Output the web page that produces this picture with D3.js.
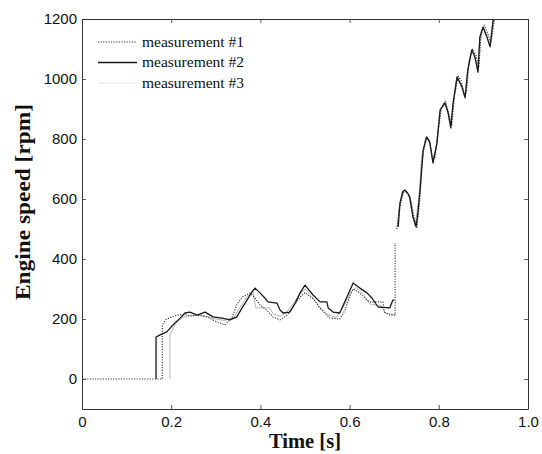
<!DOCTYPE html>
<html>
<head>
<meta charset="utf-8">
<script src="https://cdn.jsdelivr.net/npm/d3@7"></script>
<style>
  html, body { margin: 0; padding: 0; background: #fff; }
  svg { display: block; }
</style>
</head>
<body>
<svg id="chart" width="542" height="454"></svg>
<script>
// ---- data ----
const xTicks = [0, 0.2, 0.4, 0.6, 0.8, 1.0];
const xTickLabels = ["0", "0.2", "0.4", "0.6", "0.8", "1.0"];
const yTicks = [0, 200, 400, 600, 800, 1000, 1200];
const seriesNames = ["measurement #1", "measurement #2", "measurement #3"];

// measurement #1 (dotted)
const t1 = [0, 0.18, 0.18, 0.187, 0.2, 0.215, 0.23, 0.245, 0.26, 0.28, 0.303, 0.32, 0.336, 0.347, 0.359, 0.377, 0.388, 0.399, 0.414, 0.428, 0.444, 0.46, 0.473, 0.489, 0.5, 0.52, 0.534, 0.556, 0.578, 0.59, 0.6, 0.608, 0.62, 0.639, 0.645, 0.675, 0.678, 0.69, 0.702, 0.702, 0.704,
  0.706, 0.712, 0.72, 0.728, 0.737, 0.745, 0.751, 0.757, 0.763, 0.77, 0.778, 0.786, 0.791, 0.799, 0.806, 0.815, 0.823, 0.829, 0.835, 0.843, 0.85, 0.857, 0.862, 0.868, 0.876, 0.883, 0.89, 0.895, 0.902, 0.91, 0.917, 0.925, 0.932];
const v1 = [0, 0, 180, 197, 207, 213, 215, 210, 213, 207, 190, 180, 203, 247, 273, 287, 270, 247, 230, 207, 197, 213, 240, 273, 288, 265, 235, 203, 200, 230, 275, 300, 290, 263, 257, 257, 223, 213, 213, 453, null,
  500, 570, 620, 625, 595, 535, 505, 590, 730, 800, 800, 740, 735, 830, 905, 925, 880, 845, 940, 1010, 995, 950, 955, 1060, 1100, 1080, 1040, 1150, 1180, 1150, 1120, 1200, 1220];

// measurement #2 (solid)
const t2 = [0.166, 0.166, 0.175, 0.19, 0.204, 0.22, 0.231, 0.242, 0.258, 0.276, 0.294, 0.314, 0.332, 0.347, 0.359, 0.37, 0.381, 0.388, 0.399, 0.41, 0.417, 0.437, 0.444, 0.451, 0.466, 0.478, 0.489, 0.5, 0.518, 0.534, 0.549, 0.552, 0.563, 0.578, 0.594, 0.608, 0.623, 0.639, 0.65, 0.664, 0.69, 0.697, 0.7, 0.704,
  0.709, 0.713, 0.719, 0.724, 0.73, 0.735, 0.742, 0.749, 0.753, 0.758, 0.765, 0.773, 0.78, 0.787, 0.796, 0.803, 0.814, 0.821, 0.827, 0.832, 0.841, 0.852, 0.859, 0.865, 0.874, 0.881, 0.888, 0.892, 0.899, 0.908, 0.915, 0.922, 0.93];
const v2 = [0, 140, 147, 157, 180, 203, 220, 223, 213, 223, 207, 203, 197, 207, 237, 263, 290, 303, 287, 270, 257, 253, 230, 220, 223, 253, 287, 313, 280, 257, 257, 237, 223, 220, 273, 320, 303, 287, 270, 240, 237, 263, 263, null,
  507, 587, 625, 630, 620, 607, 540, 507, 553, 630, 763, 807, 787, 720, 787, 897, 920, 887, 837, 920, 1007, 973, 937, 1030, 1097, 1073, 1023, 1140, 1173, 1140, 1107, 1197, 1215];

// measurement #3 (light)
const t3 = [0.197, 0.197, 0.21, 0.225, 0.24, 0.26, 0.28, 0.3, 0.32, 0.34, 0.355, 0.37, 0.383, 0.39, 0.42, 0.43, 0.445, 0.46, 0.475, 0.49, 0.5, 0.515, 0.53, 0.55, 0.57, 0.59, 0.605, 0.615, 0.63, 0.645, 0.67, 0.68, 0.7, 0.703,
  0.707, 0.711, 0.722, 0.732, 0.74, 0.747, 0.755, 0.762, 0.771, 0.779, 0.786, 0.794, 0.802, 0.812, 0.82, 0.826, 0.832, 0.84, 0.851, 0.858, 0.864, 0.873, 0.88, 0.887, 0.892, 0.9, 0.907, 0.914, 0.921, 0.93];
const v3 = [0, 147, 185, 205, 210, 215, 208, 200, 195, 205, 240, 275, 290, 237, 237, 215, 210, 225, 255, 285, 300, 275, 245, 215, 205, 250, 295, 305, 285, 250, 245, 220, 215, null,
  505, 575, 628, 615, 555, 510, 600, 745, 805, 795, 725, 770, 890, 922, 890, 840, 915, 1005, 980, 940, 1020, 1095, 1078, 1030, 1130, 1175, 1145, 1110, 1190, 1215];

// ---- layout ----
const W = 542, H = 454;
const L = 82, R = 528, T = 19, B = 409;
const svg = d3.select("#chart");

const x = d3.scaleLinear().domain([0, 1]).range([L, R]);
const y = d3.scaleLinear().domain([-100, 1200]).range([B, T]);

svg.append("defs").append("clipPath").attr("id", "clip")
  .append("rect").attr("x", L).attr("y", T).attr("width", R - L).attr("height", B - T);

const tickFont = "'Liberation Sans', Arial, Helvetica, sans-serif";

function styleAxis(g) {
  g.attr("color", "#333");
  g.select(".domain").attr("stroke-width", 1);
  g.selectAll(".tick line").attr("stroke-width", 0.8);
  g.selectAll("text").attr("font-family", tickFont).attr("font-size", 15).attr("fill", "#111");
}

svg.append("g").attr("transform", `translate(0,${B})`)
  .call(d3.axisBottom(x).tickValues(xTicks).tickFormat((d, i) => xTickLabels[i]).tickSizeInner(-4).tickSizeOuter(0).tickPadding(7))
  .call(styleAxis);
svg.append("g").attr("transform", `translate(0,${T})`)
  .call(d3.axisTop(x).tickValues(xTicks).tickFormat("").tickSizeInner(-4).tickSizeOuter(0))
  .call(styleAxis);
svg.append("g").attr("transform", `translate(${L},0)`)
  .call(d3.axisLeft(y).tickValues(yTicks).tickFormat(d3.format("d")).tickSizeInner(-4).tickSizeOuter(0).tickPadding(5))
  .call(styleAxis);
svg.append("g").attr("transform", `translate(${R},0)`)
  .call(d3.axisRight(y).tickValues(yTicks).tickFormat("").tickSizeInner(-4).tickSizeOuter(0))
  .call(styleAxis);

// ---- lines ----
function pts(ts, vs) { return ts.map((t, i) => ({ t, v: vs[i] })); }
const line = d3.line().defined(d => d.v != null).x(d => x(d.t)).y(d => y(d.v));

const styles = [
  { color: "#333", width: 1.1, dash: "1.2,1.4" },
  { color: "#1a1a1a", width: 1.3, dash: null },
  { color: "#b5b5b5", width: 1.0, dash: null }
];
const data = [pts(t1, v1), pts(t2, v2), pts(t3, v3)];

const plot = svg.append("g").attr("clip-path", "url(#clip)");
[2, 0, 1].forEach(i => {
  plot.append("path").datum(data[i])
    .attr("fill", "none")
    .attr("stroke", styles[i].color)
    .attr("stroke-width", styles[i].width)
    .attr("stroke-dasharray", styles[i].dash)
    .attr("stroke-linejoin", "round")
    .attr("d", line);
});

// ---- legend ----
const legend = svg.append("g");
seriesNames.forEach((name, i) => {
  const yy = 42 + i * 20.5;
  legend.append("line").attr("x1", 98).attr("x2", 137).attr("y1", yy).attr("y2", yy)
    .attr("stroke", i === 2 ? "#e4e4e4" : styles[i].color)
    .attr("stroke-width", styles[i].width)
    .attr("stroke-dasharray", styles[i].dash);
  legend.append("text").attr("x", 142).attr("y", yy + 4.5)
    .attr("font-family", "'Liberation Serif', 'Times New Roman', serif")
    .attr("font-size", 15.5).attr("fill", "#111").text(name);
});

// ---- axis titles ----
svg.append("text").attr("x", (L + R) / 2).attr("y", 448)
  .attr("text-anchor", "middle")
  .attr("font-family", "'Liberation Serif', 'Times New Roman', serif")
  .attr("font-weight", "bold").attr("font-size", 20).attr("fill", "#111")
  .attr("textLength", 72).attr("lengthAdjust", "spacingAndGlyphs")
  .text("Time [s]");
svg.append("text").attr("transform", `translate(30,202) rotate(-90)`)
  .attr("text-anchor", "middle")
  .attr("font-family", "'Liberation Serif', 'Times New Roman', serif")
  .attr("font-weight", "bold").attr("font-size", 20).attr("fill", "#111")
  .attr("textLength", 196).attr("lengthAdjust", "spacingAndGlyphs")
  .text("Engine speed [rpm]");
</script>
</body>
</html>
